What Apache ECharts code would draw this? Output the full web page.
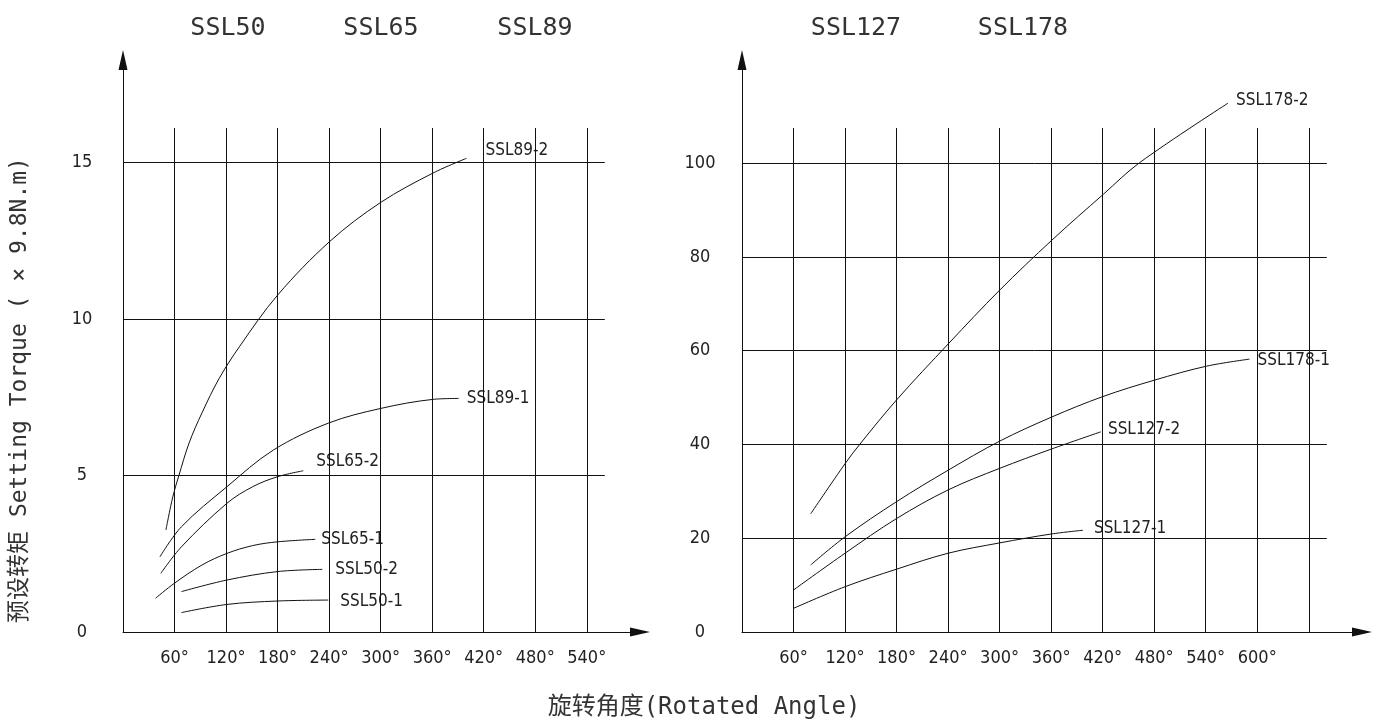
<!DOCTYPE html>
<html>
<head>
<meta charset="utf-8">
<title>SSL 预设转矩</title>
<script src="https://cdn.jsdelivr.net/npm/echarts@6/dist/echarts.min.js"></script>
<style>
html, body { margin: 0; padding: 0; background: #fff; }
#chart { width: 1381px; height: 724px; }
</style>
</head>
<body>
<div id="chart"></div>
<script>
// 刻度标签
var leftXTicks = [60, 120, 180, 240, 300, 360, 420, 480, 540];
var leftYTicks = [0, 5, 10, 15];
var rightXTicks = [60, 120, 180, 240, 300, 360, 420, 480, 540, 600];
var rightYTicks = [0, 20, 40, 60, 80, 100];

// 网格线位置 (竖线 / 横线 / 终点)
var leftGridX = [60, 120, 180, 240, 300, 360, 420, 480, 540];
var leftGridY = [5, 10, 15];
var leftGridEnd = [561, 16.1];
var rightGridX = [60, 120, 180, 240, 300, 360, 420, 480, 540, 600, 660];
var rightGridY = [20, 40, 60, 80, 100];
var rightGridEnd = [681, 107.5];

// 型号
var leftModels = ['SSL50', 'SSL65', 'SSL89'];
var rightModels = ['SSL127', 'SSL178'];

// 曲线 [旋转角度, 预设转矩]
var ssl50_1 = [[68, 0.62], [121, 0.88], [180, 0.99], [239, 1.02]];
var ssl50_2 = [[68, 1.29], [121, 1.66], [180, 1.93], [232, 2.0]];
var ssl65_1 = [[38, 1.08], [60, 1.56], [92, 2.14], [121, 2.51], [151, 2.76], [180, 2.88], [224, 2.96]];
var ssl65_2 = [[44, 1.87], [68, 2.72], [121, 4.11], [151, 4.64], [180, 4.96], [210, 5.15]];
var ssl89_1 = [[43, 2.4], [68, 3.36], [121, 4.64], [175, 5.81], [239, 6.67], [300, 7.14], [361, 7.43], [391, 7.46]];
var ssl89_2 = [[50, 3.26], [58, 4.32], [65, 4.99], [77, 6.04], [92, 7.0], [112, 8.1], [136, 9.13], [180, 10.76], [241, 12.48], [300, 13.72], [361, 14.66], [400, 15.13]];

var ssl127_1 = [[60, 5.05], [120, 9.66], [180, 13.4], [240, 16.8], [300, 19.0], [360, 20.9], [397, 21.7]];
var ssl127_2 = [[60, 8.96], [120, 16.8], [180, 24.2], [240, 30.3], [300, 34.9], [360, 39.0], [418, 42.7]];
var ssl178_1 = [[80, 14.3], [120, 20.3], [180, 27.8], [240, 34.5], [300, 40.7], [360, 45.8], [420, 50.2], [480, 53.7], [541, 56.7], [591, 58.2]];
var ssl178_2 = [[80, 25.2], [120, 35.9], [137, 40.0], [180, 49.5], [241, 61.6], [300, 72.9], [361, 83.6], [421, 93.4], [463, 100.1], [566, 112.8]];

var monoFont = "'DejaVu Sans Mono', 'Liberation Mono', 'Noto Sans CJK SC', monospace";
var labelFont = "'DejaVu Sans Condensed', 'DejaVu Sans', sans-serif";
var ink = '#111';

var chart = echarts.init(document.getElementById('chart'));

// 曲线
function curve(name, data, axis, offset) {
    return {
        name: name,
        type: 'line',
        xAxisIndex: axis,
        yAxisIndex: axis,
        data: data,
        smooth: 0.35,
        symbol: 'none',
        silent: true,
        z: 3,
        lineStyle: { color: ink, width: 1 },
        emphasis: { disabled: true },
        endLabel: {
            show: true,
            formatter: function () { return name; },
            distance: 0,
            offset: offset,
            color: '#222',
            fontFamily: labelFont,
            fontSize: 17,
            backgroundColor: '#fff'
        }
    };
}

// 网格线
function gridLines(axis, xs, ys, end) {
    var lines = [];
    xs.forEach(function (x) {
        lines.push([{ coord: [x, 0] }, { coord: [x, end[1]] }]);
    });
    ys.forEach(function (y) {
        lines.push([{ coord: [0, y] }, { coord: [end[0], y] }]);
    });
    return {
        type: 'line',
        xAxisIndex: axis,
        yAxisIndex: axis,
        data: [],
        silent: true,
        z: 1,
        markLine: {
            symbol: ['none', 'none'],
            silent: true,
            animation: false,
            label: { show: false },
            emphasis: { disabled: true },
            lineStyle: { color: ink, width: 1, type: 'solid' },
            data: lines
        }
    };
}

function xAxis(idx, max, ticks) {
    return {
        type: 'value',
        gridIndex: idx,
        min: 0,
        max: max,
        interval: 60,
        axisLine: { show: true, symbol: ['none', 'triangle'], symbolSize: [9, 20], lineStyle: { color: ink, width: 1 } },
        axisTick: { show: false },
        splitLine: { show: false },
        axisLabel: {
            margin: 17,
            color: '#222',
            fontFamily: labelFont,
            fontSize: 18,
            formatter: function (v) { return ticks.indexOf(v) >= 0 ? v + '°' : ''; }
        }
    };
}

function yAxis(idx, max, interval, ticks, margin) {
    return {
        type: 'value',
        gridIndex: idx,
        min: 0,
        max: max,
        interval: interval,
        axisLine: { show: true, symbol: ['none', 'triangle'], symbolSize: [9, 20], lineStyle: { color: ink, width: 1 } },
        axisTick: { show: false },
        splitLine: { show: false },
        axisLabel: {
            margin: margin,
            align: 'center',
            color: '#222',
            fontFamily: labelFont,
            fontSize: 18,
            formatter: function (v) { return ticks.indexOf(v) >= 0 ? String(v) : ''; }
        }
    };
}

// 顶部型号文字
var titleX = { SSL50: 228, SSL65: 381, SSL89: 535, SSL127: 856, SSL178: 1023 };
var graphics = [];
leftModels.concat(rightModels).forEach(function (m) {
    graphics.push({
        type: 'text', x: titleX[m], y: 28, silent: true,
        style: { text: m, fill: '#333', font: '25px ' + monoFont, align: 'center', verticalAlign: 'middle' }
    });
});
graphics.push({
    type: 'text', x: 20, y: 390, rotation: Math.PI / 2, silent: true,
    style: { text: '预设转矩 Setting Torque ( × 9.8N.m)', fill: '#333', font: '23px ' + monoFont, align: 'center', verticalAlign: 'middle' }
});
graphics.push({
    type: 'text', x: 704, y: 708, silent: true,
    style: { text: '旋转角度(Rotated Angle)', fill: '#333', font: '24px ' + monoFont, align: 'center', verticalAlign: 'middle' }
});

chart.setOption({
    backgroundColor: '#fff',
    animation: false,
    grid: [
        { left: 123, top: 60, width: 517, height: 572 },
        { left: 742, top: 60, width: 620, height: 572 }
    ],
    xAxis: [xAxis(0, 602, leftXTicks), xAxis(1, 722, rightXTicks)],
    yAxis: [yAxis(0, 18.27, 5, leftYTicks, 41), yAxis(1, 122, 20, rightYTicks, 42)],
    graphic: graphics,
    series: [
        gridLines(0, leftGridX, leftGridY, leftGridEnd),
        gridLines(1, rightGridX, rightGridY, rightGridEnd),
        curve('SSL50-1', ssl50_1, 0, [12, 2]),
        curve('SSL50-2', ssl50_2, 0, [13, 0]),
        curve('SSL65-1', ssl65_1, 0, [6, 0]),
        curve('SSL65-2', ssl65_2, 0, [13, -9]),
        curve('SSL89-1', ssl89_1, 0, [8, 0]),
        curve('SSL89-2', ssl89_2, 0, [19, -8]),
        curve('SSL127-1', ssl127_1, 1, [11, -2]),
        curve('SSL127-2', ssl127_2, 1, [7, -2]),
        curve('SSL178-1', ssl178_1, 1, [8, 1]),
        curve('SSL178-2', ssl178_2, 1, [8, -3])
    ]
});
</script>
</body>
</html>
